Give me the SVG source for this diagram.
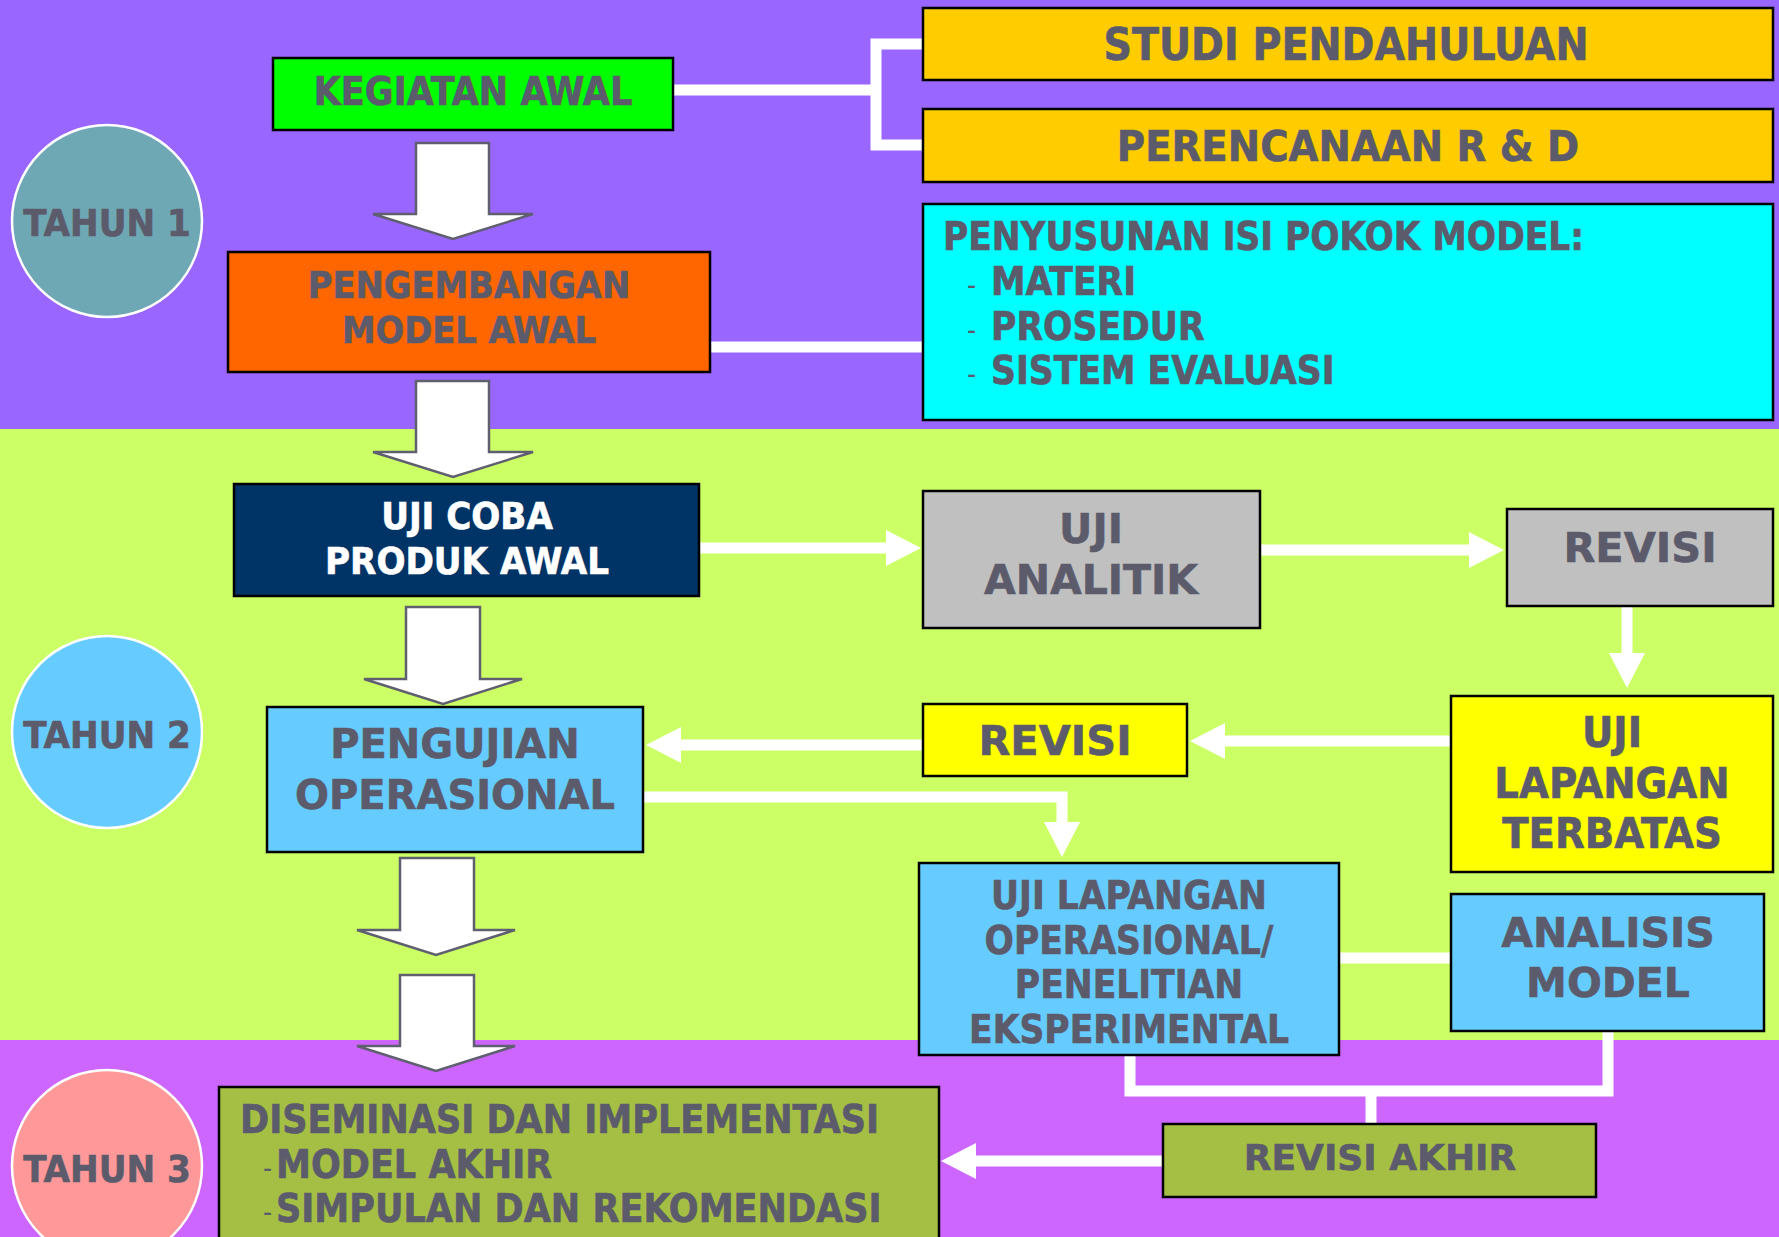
<svg xmlns="http://www.w3.org/2000/svg" width="1779" height="1237" viewBox="0 0 1779 1237">
<defs>
<style>
.t{font-family:'DejaVu Sans Condensed','DejaVu Sans',sans-serif;font-stretch:condensed;font-weight:bold;fill:#5B5B6B;stroke:#5B5B6B;stroke-width:0.6}
.w{font-family:'DejaVu Sans',sans-serif;font-stretch:normal}
.c{text-anchor:middle}
.wt{fill:#fff;stroke:#fff}
.box{stroke:#000;stroke-width:2.5}
.conn{fill:none;stroke:#fff;stroke-width:11;stroke-linejoin:miter}
.blk{fill:#fff;stroke:#5F5F6F;stroke-width:2.5;stroke-linejoin:miter}
.yr{stroke:#fff;stroke-width:2.5}
.dash{font-weight:normal;font-size:28px;stroke-width:0}
</style>
<marker id="ah" viewBox="0 0 35 36" refX="1" refY="18" markerWidth="35" markerHeight="36" markerUnits="userSpaceOnUse" orient="auto">
<path d="M0,0 L35,18 L0,36 z" fill="#fff"/>
</marker>
</defs>
<rect x="0" y="0" width="1779" height="429" fill="#9966FF"/>
<rect x="0" y="429" width="1779" height="611" fill="#CCFF66"/>
<rect x="0" y="1040" width="1779" height="197" fill="#CC66FF"/>

<g id="connectors">
<path class="conn" d="M673,90 H876"/>
<path class="conn" d="M923,44 H876 V145 H923"/>
<path class="conn" d="M710,347 H923"/>
<path class="conn" d="M699,548 H887" marker-end="url(#ah)"/>
<path class="conn" d="M1260,550 H1470" marker-end="url(#ah)"/>
<path class="conn" d="M1627,606 V654" marker-end="url(#ah)"/>
<path class="conn" d="M1451,741 H1224" marker-end="url(#ah)"/>
<path class="conn" d="M923,745 H680" marker-end="url(#ah)"/>
<path class="conn" d="M643,797 H1062 V823" marker-end="url(#ah)"/>
<path class="conn" d="M1339,958 H1451"/>
<path class="conn" d="M1130,1055 V1091 H1608 V1031"/>
<path class="conn" d="M1371,1091 V1124"/>
<path class="conn" d="M1163,1161 H975" marker-end="url(#ah)"/>
<polygon class="blk" points="416,143 489,143 489,214 533,214 453,239 373,214 416,214"/>
<polygon class="blk" points="416,381 489,381 489,452 533,452 453,477 373,452 416,452"/>
<polygon class="blk" points="406,607 480,607 480,679 522,679 443,704 364,679 406,679"/>
<polygon class="blk" points="400,858 474,858 474,930 515,930 436,955 357,930 400,930"/>
<polygon class="blk" points="400,975 474,975 474,1046 515,1046 436,1071 357,1046 400,1046"/>
</g>

<g id="tahun1">
<ellipse class="yr" cx="107" cy="221" rx="95" ry="96" fill="#6FA8B5"/>
<text class="t c" x="107" y="236" font-size="38">TAHUN 1</text>
</g>
<g id="tahun2">
<ellipse class="yr" cx="107" cy="732" rx="95" ry="96" fill="#66CCFF"/>
<text class="t c" x="107" y="748" font-size="38">TAHUN 2</text>
</g>
<g id="tahun3">
<ellipse class="yr" cx="107" cy="1166" rx="95" ry="96" fill="#FF9999"/>
<text class="t c" x="107" y="1182" font-size="38">TAHUN 3</text>
</g>

<g id="kegiatan-awal">
<rect class="box" x="273" y="58" width="400" height="72" fill="#00FF00"/>
<text class="t c" x="473" y="105" font-size="39">KEGIATAN AWAL</text>
</g>
<g id="studi-pendahuluan">
<rect class="box" x="923" y="8" width="850" height="72" fill="#FFCC00"/>
<text class="t c" x="1346" y="60" font-size="44">STUDI PENDAHULUAN</text>
</g>
<g id="perencanaan">
<rect class="box" x="923" y="109" width="850" height="73" fill="#FFCC00"/>
<text class="t c" x="1348" y="161" font-size="43">PERENCANAAN R &amp; D</text>
</g>
<g id="pengembangan">
<rect class="box" x="228" y="252" width="482" height="120" fill="#FF6600"/>
<text class="t c" x="469" y="298" font-size="37.5">PENGEMBANGAN</text>
<text class="t c" x="469" y="343" font-size="37.5">MODEL AWAL</text>
</g>
<g id="penyusunan">
<rect class="box" x="923" y="204" width="850" height="216" fill="#00FFFF"/>
<text class="t" x="943" y="250" font-size="38.3">PENYUSUNAN ISI POKOK MODEL:</text>
<text class="t" y="295" font-size="38.5"><tspan class="dash" x="967">-</tspan><tspan x="991">MATERI</tspan></text>
<text class="t" y="340" font-size="38.5"><tspan class="dash" x="967">-</tspan><tspan x="991">PROSEDUR</tspan></text>
<text class="t" y="384" font-size="38.5"><tspan class="dash" x="967">-</tspan><tspan x="991">SISTEM EVALUASI</tspan></text>
</g>
<g id="uji-coba">
<rect class="box" x="234" y="484" width="465" height="112" fill="#003366"/>
<text class="t c wt" x="467" y="529" font-size="38">UJI COBA</text>
<text class="t c wt" x="467" y="574" font-size="38">PRODUK AWAL</text>
</g>
<g id="uji-analitik">
<rect class="box" x="923" y="491" width="337" height="137" fill="#C0C0C0"/>
<text class="t w c" x="1091" y="543" font-size="41">UJI</text>
<text class="t w c" x="1091" y="594" font-size="41">ANALITIK</text>
</g>
<g id="revisi-1">
<rect class="box" x="1507" y="509" width="266" height="97" fill="#C0C0C0"/>
<text class="t w c" x="1640" y="562" font-size="41.5">REVISI</text>
</g>
<g id="uji-lapangan-terbatas">
<rect class="box" x="1451" y="696" width="322" height="176" fill="#FFFF00"/>
<text class="t c" x="1612" y="747" font-size="43">UJI</text>
<text class="t c" x="1612" y="798" font-size="43">LAPANGAN</text>
<text class="t c" x="1612" y="848" font-size="43">TERBATAS</text>
</g>
<g id="revisi-2">
<rect class="box" x="923" y="704" width="264" height="72" fill="#FFFF00"/>
<text class="t w c" x="1055" y="755" font-size="41.5">REVISI</text>
</g>
<g id="pengujian-operasional">
<rect class="box" x="267" y="707" width="376" height="145" fill="#66CCFF"/>
<text class="t w c" x="455" y="758" font-size="40">PENGUJIAN</text>
<text class="t w c" x="455" y="809" font-size="40">OPERASIONAL</text>
</g>
<g id="uji-lapangan-operasional">
<rect class="box" x="919" y="863" width="420" height="192" fill="#66CCFF"/>
<text class="t c" x="1129" y="909" font-size="38.4">UJI LAPANGAN</text>
<text class="t c" x="1129" y="954" font-size="38.4">OPERASIONAL/</text>
<text class="t c" x="1129" y="998" font-size="38.4">PENELITIAN</text>
<text class="t c" x="1129" y="1043" font-size="38.4">EKSPERIMENTAL</text>
</g>
<g id="analisis-model">
<rect class="box" x="1451" y="894" width="313" height="137" fill="#66CCFF"/>
<text class="t w c" x="1608" y="947" font-size="41">ANALISIS</text>
<text class="t w c" x="1608" y="997" font-size="41">MODEL</text>
</g>
<g id="revisi-akhir">
<rect class="box" x="1163" y="1124" width="433" height="73" fill="#A5BF45"/>
<text class="t w c" x="1380" y="1170" font-size="36">REVISI AKHIR</text>
</g>
<g id="diseminasi">
<rect class="box" x="219" y="1087" width="720" height="160" fill="#A5BF45"/>
<text class="t" x="240" y="1133" font-size="39">DISEMINASI DAN IMPLEMENTASI</text>
<text class="t" y="1178" font-size="39"><tspan class="dash" x="263">-</tspan><tspan x="276">MODEL AKHIR</tspan></text>
<text class="t" y="1222" font-size="39"><tspan class="dash" x="263">-</tspan><tspan x="276">SIMPULAN DAN REKOMENDASI</tspan></text>
</g>
</svg>
